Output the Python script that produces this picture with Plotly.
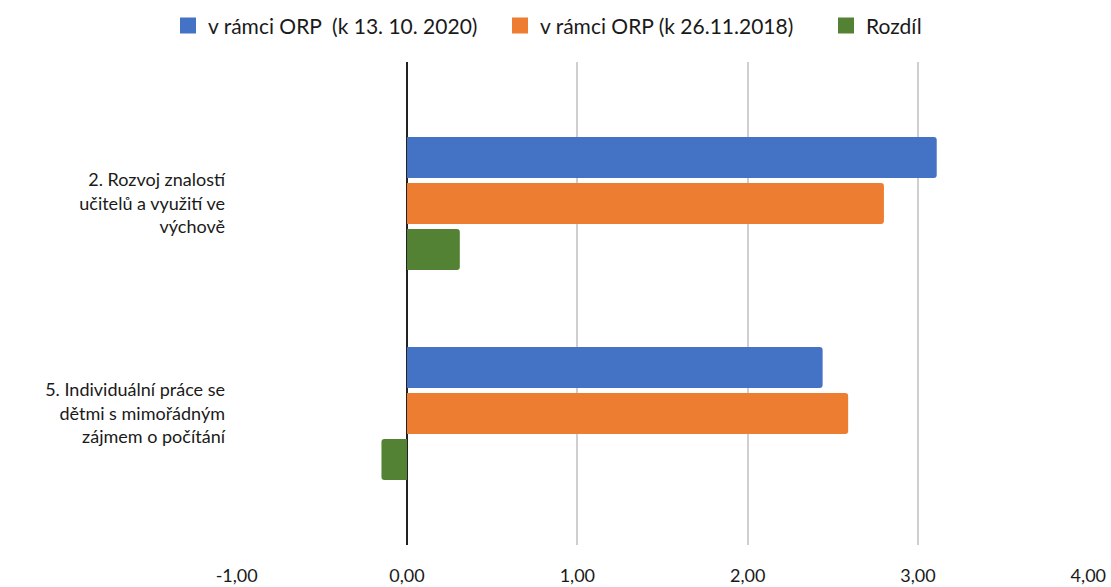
import plotly.graph_objects as go

categories = ["2. Rozvoj znalostí<br>učitelů a využití ve<br>výchově",
              "5. Individuální práce se<br>dětmi s mimořádným<br>zájmem o počítání"]
series_names = ["v rámci ORP  (k 13. 10. 2020)", "v rámci ORP (k 26.11.2018)", "Rozdíl"]
values_2020 = [3.11, 2.44]
values_2018 = [2.80, 2.59]
values_diff = [0.31, -0.15]
colors = ["#4472C4", "#ED7D31", "#548235"]
x_ticks = [-1, 0, 1, 2, 3, 4]
x_tick_labels = ["-1,00", "0,00", "1,00", "2,00", "3,00", "4,00"]
legend_widths = [287, 281, None]

FONT = "Lato, 'Open Sans', sans-serif"
fig = go.Figure()
for name, vals, col in zip(series_names, [values_2020, values_2018, values_diff], colors):
    fig.add_trace(go.Bar(y=categories, x=vals, orientation="h", name=name,
                         marker=dict(color=col, line=dict(width=0)), showlegend=False))
for name, col, lw in zip(series_names, colors, legend_widths):
    fig.add_trace(go.Scatter(x=[None], y=[None], mode="markers", name=name,
                             legendwidth=lw,
                             marker=dict(symbol="square", size=22, color=col)))

fig.update_layout(
    width=1111, height=587,
    margin=dict(l=236, r=22, t=62, b=42, autoexpand=False),
    paper_bgcolor="white", plot_bgcolor="white",
    font=dict(family=FONT, size=18, color="#1a1a1a"),
    barmode="group", bargap=0.343, bargroupgap=0.109, barcornerradius=3,
    legend=dict(orientation="h", x=168 / 1111, xref="container", xanchor="left",
                y=0.991, yref="container", yanchor="top", font=dict(size=21),
                itemwidth=30, traceorder="normal"),
    xaxis=dict(range=[-1.004, 4.004], tickvals=x_ticks, ticktext=x_tick_labels, showgrid=True,
               gridcolor="#cfcfcf", gridwidth=1.5, zeroline=True, zerolinecolor="#222222",
               zerolinewidth=1.5, showline=False, ticks="", ticklabelstandoff=18,
               tickfont=dict(size=18), automargin=False),
    yaxis=dict(type="category", range=[1.626, -0.674], showgrid=False, zeroline=False,
               showline=False, ticks="", ticklabelstandoff=10, tickfont=dict(size=18),
               automargin=False),
)
fig.write_html("out.html", post_script="document.body.style.margin='0';",
               config={"displayModeBar": False})
